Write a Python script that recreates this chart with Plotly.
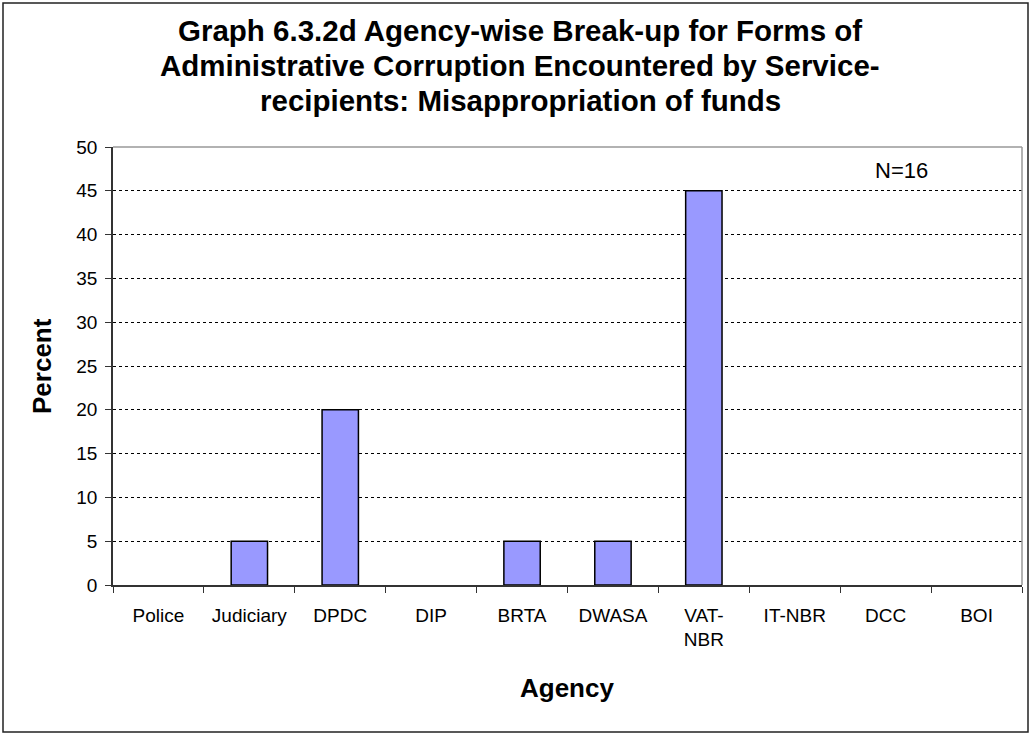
import plotly.graph_objects as go

agencies = ["Police", "Judiciary", "DPDC", "DIP", "BRTA", "DWASA", "VAT-<br>NBR", "IT-NBR", "DCC", "BOI"]
percent = [0, 5, 20, 0, 5, 5, 45, 0, 0, 0]
y_ticks = [0, 5, 10, 15, 20, 25, 30, 35, 40, 45, 50]
title_lines = [
    "Graph 6.3.2d Agency-wise Break-up for Forms of",
    "Administrative Corruption Encountered by Service-",
    "recipients: Misappropriation of funds",
]
note = "N=16"
x_title = "Agency"
y_title = "Percent"

W, H = 1032, 734
L, R, T, B = 113, 10, 147, 149
pw, ph = W - L - R, H - T - B

def px_x(x):
    return (x - L) / pw

def px_y(y):
    return (H - B - y) / ph

font = "Arial, 'Liberation Sans', sans-serif"

fig = go.Figure()
fig.add_trace(go.Bar(
    x=agencies, y=percent,
    marker=dict(color="#9999FF",
                line=dict(color="black", width=[1.5 if v else 0 for v in percent])),
    width=0.4,
))

fig.update_layout(
    width=W, height=H,
    margin=dict(l=L, r=R, t=T, b=B),
    paper_bgcolor="white", plot_bgcolor="white",
    showlegend=False,
    font=dict(family=font, color="black", size=19),
    xaxis=dict(
        tickson="boundaries", ticks="outside", ticklen=6, tickcolor="#333",
        showline=True, linecolor="#333", linewidth=1.5,
        showgrid=False, tickfont=dict(size=19), ticklabelstandoff=12,
        range=[-0.5, 9.5],
    ),
    yaxis=dict(
        range=[0, 50], tickvals=y_ticks, ticks="outside", ticklen=6, tickcolor="#333",
        showline=True, linecolor="#333", linewidth=1.5,
        showgrid=True, gridcolor="black", griddash="dot", gridwidth=1,
        zeroline=False, tickfont=dict(size=19), ticklabelstandoff=4,
    ),
)

# gray top/right frame
fig.add_shape(type="line", xref="paper", yref="paper", x0=0, x1=1, y0=1, y1=1,
              line=dict(color="#999", width=1.5))
fig.add_shape(type="line", xref="paper", yref="paper", x0=1, x1=1, y0=0, y1=1,
              line=dict(color="#999", width=1.5))
# outer border
fig.add_shape(type="rect", xref="paper", yref="paper",
              x0=px_x(3), x1=px_x(1028), y0=px_y(732), y1=px_y(3),
              line=dict(color="#222", width=1.5), fillcolor="rgba(0,0,0,0)")

for i, line in enumerate(title_lines):
    fig.add_annotation(text="<b>" + line + "</b>", xref="paper", yref="paper",
                       x=px_x(520), y=px_y(31 + 35 * i), showarrow=False,
                       xanchor="center", yanchor="middle", font=dict(size=29.5))

fig.add_annotation(text="<b>" + x_title + "</b>", xref="paper", yref="paper",
                   x=px_x(567), y=px_y(688), showarrow=False,
                   xanchor="center", yanchor="middle", font=dict(size=26))
fig.add_annotation(text="<b>" + y_title + "</b>", xref="paper", yref="paper",
                   x=px_x(42), y=px_y(366), showarrow=False, textangle=-90,
                   xanchor="center", yanchor="middle", font=dict(size=26))

fig.add_annotation(text=note, xref="paper", yref="paper", x=px_x(901), y=px_y(170),
                   showarrow=False, xanchor="center", yanchor="middle", font=dict(size=22))

fig.write_html("out.html")
